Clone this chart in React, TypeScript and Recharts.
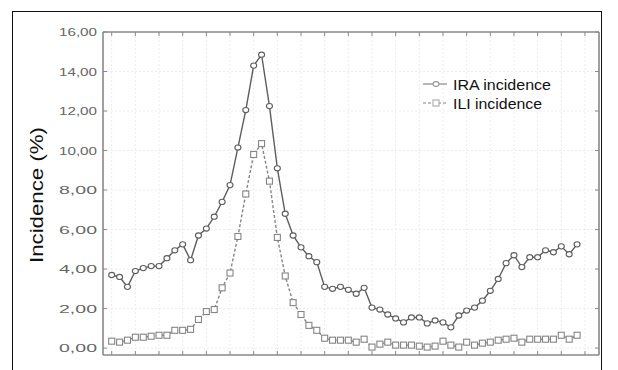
import React from 'react';
import { LineChart, Line, XAxis, YAxis, CartesianGrid, Legend } from 'recharts';

const weeks = [
  1, 2, 3, 4, 5, 6, 7, 8, 9, 10,
  11, 12, 13, 14, 15, 16, 17, 18, 19, 20,
  21, 22, 23, 24, 25, 26, 27, 28, 29, 30,
  31, 32, 33, 34, 35, 36, 37, 38, 39, 40,
  41, 42, 43, 44, 45, 46, 47, 48, 49, 50,
  51, 52, 53, 54, 55, 56, 57, 58, 59, 60,
];

const iraIncidence = [
  3.7, 3.6, 3.1, 3.9, 4.05, 4.15, 4.15, 4.55, 4.95, 5.25,
  4.45, 5.7, 6.05, 6.65, 7.4, 8.25, 10.15, 12.05, 14.3, 14.85,
  12.25, 9.1, 6.8, 5.7, 5.1, 4.65, 4.35, 3.1, 3.0, 3.1,
  2.95, 2.75, 3.05, 2.05, 1.95, 1.7, 1.5, 1.3, 1.55, 1.55,
  1.25, 1.4, 1.3, 1.05, 1.65, 1.9, 2.05, 2.4, 2.9, 3.5,
  4.3, 4.7, 4.1, 4.6, 4.6, 4.95, 4.85, 5.15, 4.75, 5.25,
];

const iliIncidence = [
  0.35, 0.3, 0.4, 0.55, 0.55, 0.6, 0.65, 0.65, 0.9, 0.9,
  0.95, 1.45, 1.85, 1.95, 3.05, 3.8, 5.65, 7.8, 9.8, 10.35,
  8.45, 5.6, 3.65, 2.3, 1.7, 1.15, 0.9, 0.5, 0.4, 0.4,
  0.4, 0.3, 0.45, 0.05, 0.2, 0.3, 0.15, 0.15, 0.15, 0.1,
  0.05, 0.1, 0.35, 0.15, 0.05, 0.3, 0.15, 0.25, 0.3, 0.4,
  0.45, 0.5, 0.3, 0.45, 0.45, 0.45, 0.45, 0.65, 0.45, 0.65,
];

const yTicks = [0, 2, 4, 6, 8, 10, 12, 14, 16];
const xTicks = [1, 4, 7, 10, 13, 16, 19, 22, 25, 28, 31, 34, 37, 40, 43, 46, 49, 52, 55, 58, 61];
const seriesNames = ['IRA incidence', 'ILI incidence'];
const yAxisTitle = 'Incidence (%)';

const data = weeks.map((w, i) => ({ week: w, ira: iraIncidence[i], ili: iliIncidence[i] }));

const FONT = 'Arial, "Liberation Sans", sans-serif';
const AXIS = '#8a8a8a';
const IRA_COLOR = '#5e5e5e';
const ILI_COLOR = '#858585';

const fmt = (v: number) => v.toFixed(2).replace('.', ',');

const CircleDot = (props: any) => {
  const { cx, cy } = props;
  if (cx == null || cy == null) return <g />;
  return <ellipse cx={cx} cy={cy} rx={3} ry={2.6} fill="#fff" stroke={IRA_COLOR} strokeWidth={1.1} />;
};

const SquareDot = (props: any) => {
  const { cx, cy } = props;
  if (cx == null || cy == null) return <g />;
  return <rect x={cx - 3} y={cy - 3} width={6} height={6} fill="#fff" stroke={ILI_COLOR} strokeWidth={1.1} />;
};

const YTick = (props: any) => {
  const { x, y, payload } = props;
  return (
    <text
      x={x}
      y={y}
      dy={4}
      textAnchor="end"
      fontSize={11}
      fill="#666"
      fontFamily={FONT}
      textLength={38}
      lengthAdjust="spacingAndGlyphs"
    >
      {fmt(payload.value)}
    </text>
  );
};

const EmptyTick = () => <g />;

const AxisTitle = () => (
  <text
    x={36}
    y={195}
    transform="rotate(-90, 36, 195)"
    textAnchor="middle"
    dominantBaseline="central"
    fontSize={19}
    fill="#111"
    fontFamily={FONT}
    textLength={136}
    lengthAdjust="spacingAndGlyphs"
  >
    {yAxisTitle}
  </text>
);

const renderLegend = () => (
  <svg width={180} height={44} style={{ display: 'block' }}>
    <line x1={3} x2={27} y1={12} y2={12} stroke="#999" strokeWidth={1.4} />
    <ellipse cx={16} cy={12} rx={3} ry={2.4} fill="#fff" stroke="#999" strokeWidth={1.1} />
    <text x={33} y={18} fontSize={15.5} fill="#111" fontFamily={FONT} textLength={98} lengthAdjust="spacingAndGlyphs">
      {seriesNames[0]}
    </text>
    <line x1={3} x2={27} y1={31} y2={31} stroke="#aaa" strokeWidth={1.4} strokeDasharray="3 2" />
    <rect x={13} y={28} width={6} height={6} fill="#fff" stroke="#aaa" strokeWidth={1.1} />
    <text x={33} y={36.5} fontSize={15.5} fill="#111" fontFamily={FONT} textLength={89} lengthAdjust="spacingAndGlyphs">
      {seriesNames[1]}
    </text>
  </svg>
);

export default function App() {
  return (
    <div
      style={{
        position: 'absolute',
        left: 0,
        top: 0,
        width: 618,
        height: 370,
        background: '#fff',
        overflow: 'hidden',
      }}
    >
      <div
        style={{
          position: 'absolute',
          left: 12,
          top: 11,
          width: 590,
          height: 400,
          border: '1.3px solid #111',
          boxSizing: 'border-box',
        }}
      />
      <div style={{ position: 'absolute', left: 0, top: 0 }}>
        <LineChart width={618} height={370} data={data} margin={{ top: 31, right: 18, bottom: 14, left: 0 }}>
          <CartesianGrid stroke="#ececec" strokeDasharray="2 2" />
          <XAxis
            xAxisId={0}
            dataKey="week"
            type="number"
            domain={[-0.103, 62.78]}
            allowDataOverflow
            ticks={xTicks}
            height={1}
            tick={EmptyTick}
            tickSize={-4}
            axisLine={{ stroke: AXIS, strokeWidth: 1.6 }}
            tickLine={{ stroke: AXIS }}
          />
          <XAxis
            xAxisId="top"
            orientation="top"
            dataKey="week"
            type="number"
            domain={[-0.103, 62.78]}
            allowDataOverflow
            ticks={xTicks}
            height={1}
            tick={EmptyTick}
            tickSize={-4}
            axisLine={{ stroke: AXIS, strokeWidth: 1.6 }}
            tickLine={{ stroke: AXIS }}
          />
          <YAxis
            yAxisId={0}
            type="number"
            domain={[-0.35, 16]}
            allowDataOverflow
            ticks={yTicks}
            width={103}
            tick={YTick}
            tickSize={-4}
            tickMargin={10}
            axisLine={{ stroke: AXIS, strokeWidth: 1.6 }}
            tickLine={{ stroke: AXIS }}
            label={<AxisTitle />}
          />
          <YAxis
            yAxisId="right"
            orientation="right"
            type="number"
            domain={[-0.35, 16]}
            allowDataOverflow
            ticks={yTicks}
            width={1}
            tick={EmptyTick}
            tickSize={-4}
            axisLine={{ stroke: AXIS, strokeWidth: 1.6 }}
            tickLine={{ stroke: AXIS }}
          />
          <Legend
            layout="horizontal"
            verticalAlign="middle"
            align="center"
            content={renderLegend}
            wrapperStyle={{ position: 'absolute', left: 420, top: 72, width: 180, height: 44 }}
          />
          <Line
            dataKey="ili"
            name={seriesNames[1]}
            stroke={ILI_COLOR}
            strokeWidth={1.4}
            strokeDasharray="3 2"
            dot={SquareDot}
            activeDot={false}
            isAnimationActive={false}
          />
          <Line
            dataKey="ira"
            name={seriesNames[0]}
            stroke={IRA_COLOR}
            strokeWidth={1.4}
            dot={CircleDot}
            activeDot={false}
            isAnimationActive={false}
          />
        </LineChart>
      </div>
    </div>
  );
}
